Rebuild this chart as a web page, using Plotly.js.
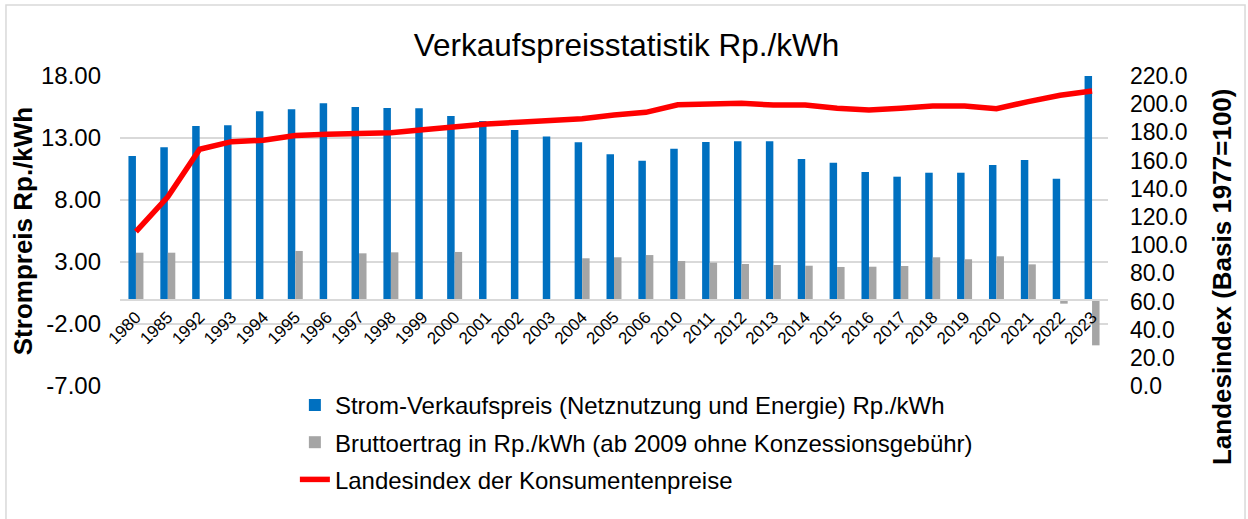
<!DOCTYPE html>
<html>
<head>
<meta charset="utf-8">
<script src="https://cdn.plot.ly/plotly-3.0.1.min.js"></script>
<style>
html,body{margin:0;padding:0;background:#fff;}
#chart{width:1248px;height:519px;}
</style>
</head>
<body>
<div id="chart"></div>
<script>
const years = ['1980','1985','1992','1993','1994','1995','1996','1997','1998','1999','2000','2001','2002','2003','2004','2005','2006','2010','2011','2012','2013','2014','2015','2016','2017','2018','2019','2020','2021','2022','2023'];
const verkaufspreis = [11.55,12.25,13.97,14.02,15.15,15.31,15.80,15.50,15.42,15.39,14.77,14.37,13.65,13.13,12.65,11.68,11.17,12.14,12.68,12.73,12.73,11.31,11.01,10.26,9.88,10.20,10.20,10.82,11.23,9.72,18.00];
const bruttoertrag = [3.75,3.75,null,null,null,3.89,null,3.70,3.78,null,3.81,null,null,null,3.30,3.38,3.56,3.08,2.95,2.84,2.76,2.70,2.60,2.62,2.68,3.38,3.22,3.46,2.81,-0.36,-3.72];
const landesindex = [109.5,134.3,168.0,173.4,174.4,177.7,178.6,179.6,179.8,181.9,184.3,186.0,187.1,188.0,189.7,192.3,194.2,199.6,200.4,200.6,199.4,199.4,197.1,195.9,197.1,198.7,198.7,196.8,201.8,206.3,209.4];

const leftTickVals = [-7,-2,3,8,13,18];
const leftTickText = ['-7.00','-2.00','3.00','8.00','13.00','18.00'];

const seriesNames = [
  'Strom-Verkaufspreis (Netznutzung und Energie) Rp./kWh',
  'Bruttoertrag in Rp./kWh (ab 2009 ohne Konzessionsgebühr)',
  'Landesindex der Konsumentenpreise'
];

const FONT = 'Arial, "Liberation Sans", sans-serif';

const traces = [
  {type:'bar', x:years, y:verkaufspreis, name:seriesNames[0], marker:{color:'#0070C0'}, yaxis:'y', legendgroup:'a', hoverinfo:'x+y'},
  {type:'bar', x:years, y:bruttoertrag, name:seriesNames[1], marker:{color:'#A5A5A5'}, yaxis:'y', legendgroup:'b', hoverinfo:'x+y'},
  {type:'scatter', mode:'lines', x:years, y:landesindex, name:seriesNames[2], line:{color:'#FF0000', width:5.5}, yaxis:'y2', legendgroup:'c', hoverinfo:'x+y'}
];

const layout = {
  width:1248, height:519,
  margin:{l:120, r:140, t:76, b:133, autoexpand:false},
  paper_bgcolor:'#fff', plot_bgcolor:'#fff',
  font:{family:FONT, color:'#000'},
  title:{text:'Verkaufspreisstatistik Rp./kWh', font:{size:31.5, family:FONT, color:'#000'}, xref:'container', x:0.502, xanchor:'center', yref:'container', y:0.913, yanchor:'middle'},
  barmode:'group', bargap:0.53, bargroupgap:0,
  xaxis:{type:'category', anchor:'free', position:0.28, tickangle:-45, tickfont:{size:17}, showline:true, linecolor:'#D9D9D9', linewidth:1.5, showgrid:false, ticks:'', automargin:false},
  yaxis:{range:[-7,18], tickmode:'array', tickvals:leftTickVals, ticktext:leftTickText, tickfont:{size:24}, showgrid:true, gridcolor:'#D9D9D9', gridwidth:1.5, zeroline:false, ticklabelstandoff:18, automargin:false,
         title:{text:'<b>Strompreis Rp./kWh</b>', font:{size:26}, standoff:0}},
  yaxis2:{range:[0,220], dtick:20, tickformat:'.1f', tickfont:{size:23}, overlaying:'y', side:'right', showgrid:false, zeroline:false, ticklabelstandoff:21, automargin:false},
  legend:{x:0.177, xanchor:'left', y:0.01, yanchor:'top', orientation:'v', font:{size:24}, tracegroupgap:3, bgcolor:'rgba(0,0,0,0)'},
  annotations:[
    {text:'<b>Landesindex (Basis 1977=100)</b>', xref:'paper', yref:'paper', x:1.1154, y:0.3516, xanchor:'center', yanchor:'middle', textangle:-90, showarrow:false, font:{size:26, family:FONT, color:'#000'}}
  ],
  shapes:[
    {type:'rect', xref:'paper', yref:'paper', x0:-0.1154, x1:1.1387, y0:-0.44, y1:1.229, line:{color:'#D9D9D9', width:1.5}, fillcolor:'rgba(0,0,0,0)', layer:'below'}
  ],
  showlegend:true
};

Plotly.newPlot('chart', traces, layout, {displayModeBar:false, staticPlot:true});
</script>
</body>
</html>
